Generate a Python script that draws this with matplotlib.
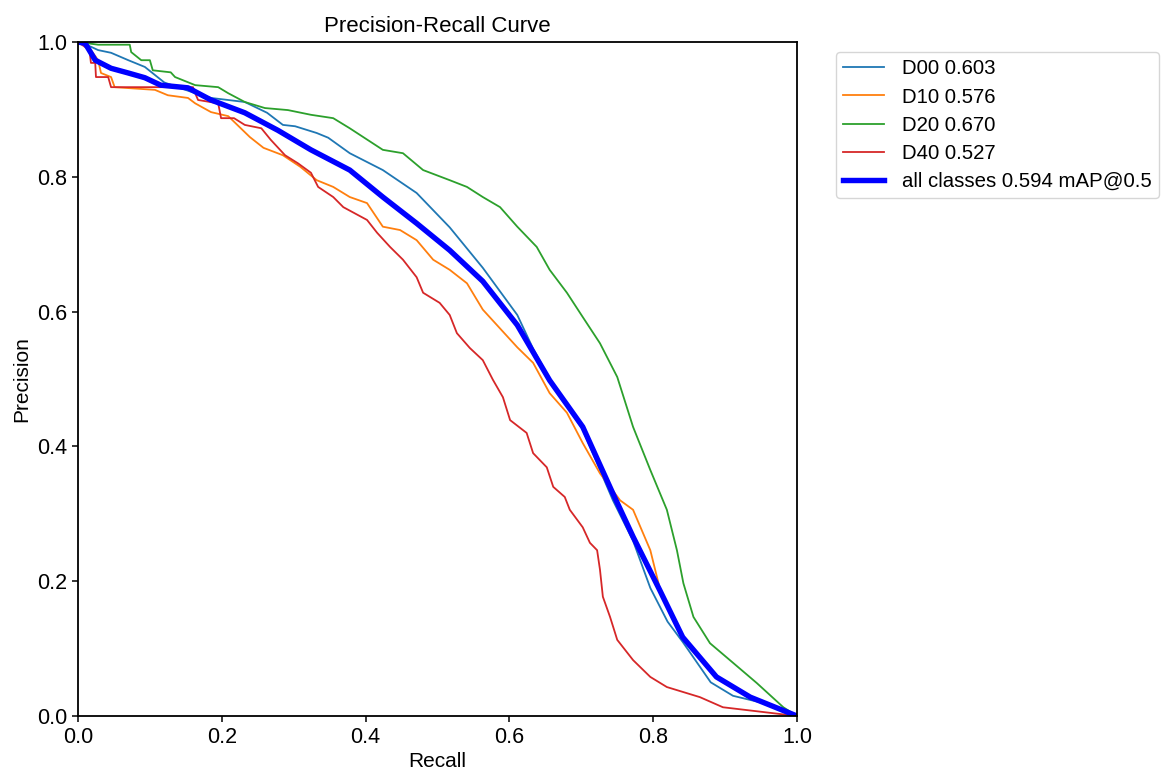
""" Precision-Recall curve for each class plus the all-classes mean. """

import matplotlib
matplotlib.use('Agg')
import matplotlib.pyplot as plt

plt.rcParams['font.family'] = ['Liberation Sans', 'DejaVu Sans']
plt.rcParams['axes.linewidth'] = 1.3
plt.rcParams['xtick.major.size'] = 4.5
plt.rcParams['ytick.major.size'] = 4.5
plt.rcParams['xtick.major.width'] = 1.1
plt.rcParams['ytick.major.width'] = 1.1

# Class names and their AP@0.5
class_names = ['D00', 'D10', 'D20', 'D40']
class_ap = [0.603, 0.576, 0.670, 0.527]
all_map = 0.594

# Recall / precision points
d00_recall = [0, 0.018, 0.028, 0.046, 0.07, 0.093, 0.12, 0.163, 0.185, 0.232, 0.263, 0.285, 0.302,
              0.332, 0.348, 0.378, 0.424, 0.471, 0.517, 0.563, 0.611, 0.633, 0.656, 0.702, 0.744,
              0.772, 0.796, 0.82, 0.841, 0.88, 0.911, 0.95, 1.0]
d00_precision = [1.0, 0.993, 0.988, 0.984, 0.973, 0.963, 0.94, 0.924, 0.917, 0.911, 0.895, 0.877, 0.875,
                 0.865, 0.858, 0.835, 0.81, 0.776, 0.725, 0.665, 0.595, 0.545, 0.50, 0.425, 0.32,
                 0.26, 0.19, 0.14, 0.11, 0.05, 0.03, 0.02, 0.0]

d10_recall = [0, 0.01, 0.028, 0.032, 0.046, 0.051, 0.107, 0.125, 0.153, 0.163, 0.185, 0.209, 0.239,
              0.258, 0.285, 0.309, 0.332, 0.355, 0.378, 0.402, 0.424, 0.448, 0.471, 0.494, 0.517,
              0.541, 0.563, 0.587, 0.611, 0.633, 0.656, 0.68, 0.702, 0.726, 0.754, 0.772, 0.796,
              0.809, 0.841, 0.888, 0.935, 1.0]
d10_precision = [1.0, 1.0, 0.973, 0.954, 0.948, 0.933, 0.929, 0.921, 0.917, 0.909, 0.896, 0.89, 0.859,
                 0.843, 0.832, 0.815, 0.795, 0.785, 0.77, 0.761, 0.726, 0.721, 0.706, 0.677, 0.662,
                 0.642, 0.603, 0.575, 0.547, 0.524, 0.479, 0.45, 0.405, 0.36, 0.32, 0.306, 0.246,
                 0.19, 0.115, 0.058, 0.028, 0.0]

d20_recall = [0, 0.028, 0.072, 0.074, 0.088, 0.10, 0.104, 0.129, 0.135, 0.163, 0.195, 0.209, 0.232,
              0.26, 0.292, 0.324, 0.355, 0.378, 0.424, 0.452, 0.48, 0.517, 0.541, 0.563, 0.587,
              0.611, 0.638, 0.656, 0.68, 0.702, 0.726, 0.75, 0.772, 0.796, 0.819, 0.833, 0.842,
              0.856, 0.879, 0.911, 0.944, 0.981, 1.0]
d20_precision = [1.0, 0.996, 0.996, 0.985, 0.973, 0.973, 0.958, 0.955, 0.948, 0.936, 0.933, 0.924, 0.911,
                 0.902, 0.899, 0.892, 0.887, 0.872, 0.84, 0.835, 0.81, 0.795, 0.785, 0.77, 0.755,
                 0.726, 0.696, 0.662, 0.628, 0.592, 0.553, 0.503, 0.429, 0.365, 0.306, 0.246, 0.197,
                 0.147, 0.108, 0.079, 0.049, 0.013, 0.0]

d40_recall = [0, 0.016, 0.018, 0.024, 0.025, 0.042, 0.046, 0.16, 0.163, 0.167, 0.195, 0.199, 0.217,
              0.232, 0.255, 0.268, 0.288, 0.306, 0.324, 0.334, 0.355, 0.369, 0.402, 0.416, 0.434,
              0.452, 0.471, 0.48, 0.503, 0.517, 0.527, 0.545, 0.563, 0.577, 0.591, 0.601, 0.624,
              0.633, 0.652, 0.661, 0.677, 0.684, 0.702, 0.712, 0.722, 0.726, 0.73, 0.74, 0.75,
              0.772, 0.796, 0.819, 0.865, 0.897, 1.0]
d40_precision = [1.0, 0.988, 0.969, 0.969, 0.948, 0.948, 0.933, 0.933, 0.924, 0.914, 0.909, 0.887, 0.887,
                 0.877, 0.872, 0.855, 0.832, 0.82, 0.806, 0.785, 0.77, 0.755, 0.736, 0.717, 0.696,
                 0.677, 0.651, 0.628, 0.613, 0.595, 0.568, 0.546, 0.528, 0.499, 0.473, 0.439, 0.42,
                 0.39, 0.369, 0.34, 0.325, 0.306, 0.28, 0.257, 0.246, 0.217, 0.177, 0.147, 0.113,
                 0.083, 0.058, 0.043, 0.028, 0.013, 0.0]

all_recall = [0, 0.01, 0.024, 0.046, 0.07, 0.093, 0.115, 0.153, 0.185, 0.232, 0.278, 0.324, 0.378,
              0.424, 0.471, 0.517, 0.563, 0.611, 0.656, 0.702, 0.744, 0.772, 0.809, 0.841, 0.888,
              0.935, 1.0]
all_precision = [1.0, 0.998, 0.973, 0.961, 0.954, 0.947, 0.936, 0.932, 0.914, 0.895, 0.869, 0.840, 0.810,
                 0.770, 0.731, 0.691, 0.645, 0.58, 0.498, 0.429, 0.33, 0.266, 0.187, 0.117, 0.058,
                 0.028, 0.0]

class_recall = [d00_recall, d10_recall, d20_recall, d40_recall]
class_precision = [d00_precision, d10_precision, d20_precision, d40_precision]

fig = plt.figure(figsize=(11.64, 7.75), dpi=100)
ax = fig.add_axes([0.067, 0.0761, 0.6177, 0.8697])

# One thin line per class
for name, ap, rec, prec in zip(class_names, class_ap, class_recall, class_precision):
    ax.plot(rec, prec, linewidth=1.3, label='%s %.3f' % (name, ap))

# Thick mean line
ax.plot(all_recall, all_precision, linewidth=3.9, color='blue', label='all classes %.3f mAP@0.5' % all_map)

ax.set_xlim(0, 1)
ax.set_ylim(0, 1)
ax.set_xlabel('Recall', fontsize=15, labelpad=3)
ax.set_ylabel('Precision', fontsize=15)
ax.set_title('Precision-Recall Curve', fontsize=16, pad=7)
ax.tick_params(labelsize=15.5)
ax.legend(bbox_to_anchor=(1.04, 1), loc='upper left', fontsize=14.7, labelspacing=0.45,
          borderpad=0.35, handletextpad=0.9)

fig.savefig('out.png', dpi=100)
